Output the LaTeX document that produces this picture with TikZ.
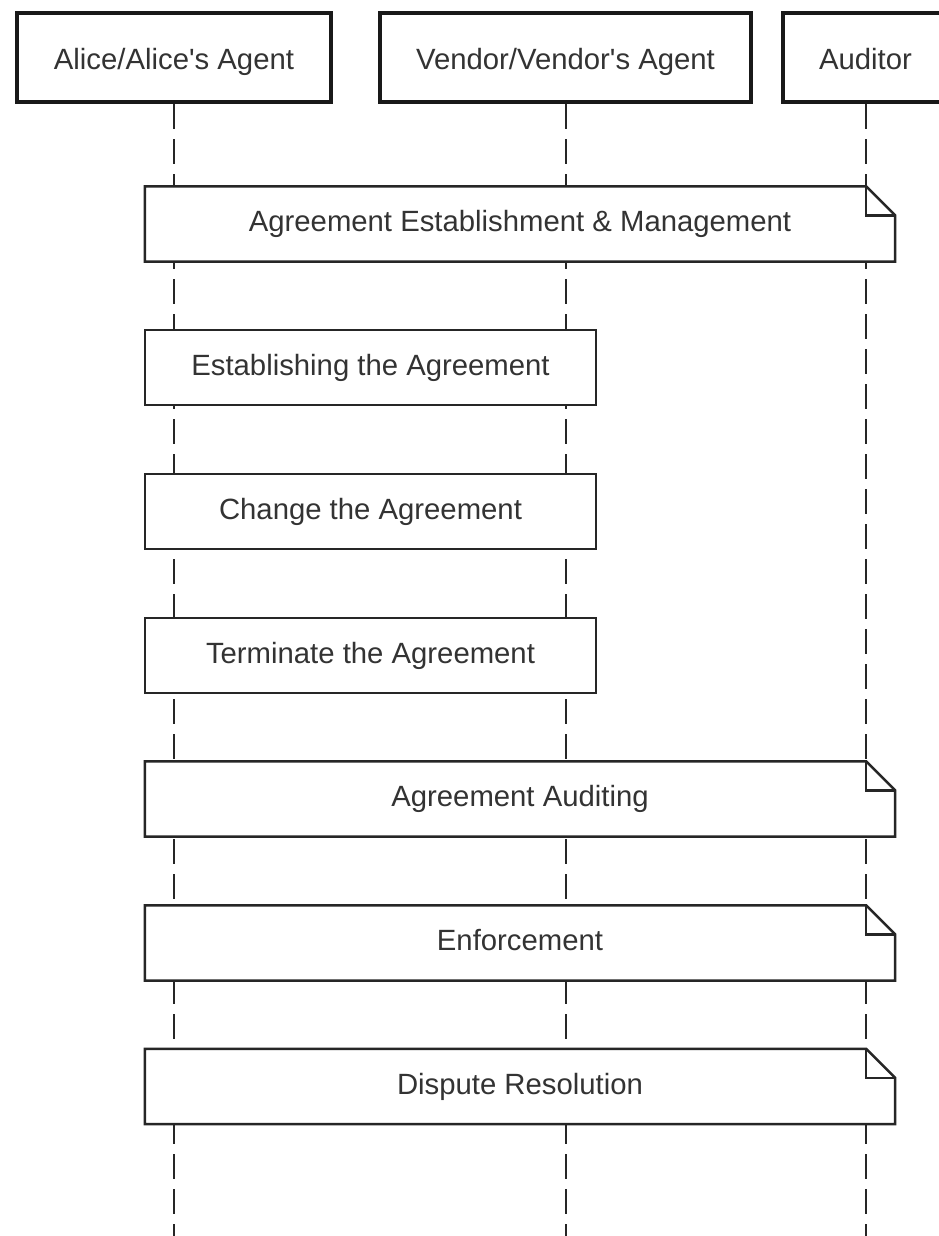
\documentclass[tikz,border=0pt]{standalone}
\usepackage{fontspec}
\setmainfont{Liberation Sans}
\begin{document}
\begin{tikzpicture}[x=1pt,y=-1pt,
  every node/.style={font=\fontsize{29.3}{34}\selectfont, text=black!80},
  actor/.style={draw=black!90, line width=4pt, fill=white, minimum height=89pt, inner sep=0pt, text height=25pt, text depth=0pt},
  lifeline/.style={draw=black!85, line width=2pt, dash pattern=on 25pt off 10pt},
  notebox/.style={draw=black!85, line width=2.5pt, fill=white, minimum height=75pt, minimum width=451pt, inner sep=0pt, text height=21pt, text depth=6pt},
  foldnote/.style={fill=white, minimum height=75pt, minimum width=750pt, inner sep=0pt, text height=21pt, text depth=6pt},
  foldline/.style={draw=black!85, line width=2.5pt, line join=miter}
]
\useasboundingbox (0,0) rectangle (939,1236);
\clip (0,0) rectangle (939,1236);
% actors
\node[actor, minimum width=314pt] (alice) at (174,57.5) {Alice/Alice\textquotesingle s Agent};
\node[actor, minimum width=371pt] (vendor) at (565.5,57.5) {Vendor/Vendor\textquotesingle s Agent};
\node[actor, minimum width=165pt] (auditor) at (865.5,57.5) {Auditor};
% lifeline ends
\coordinate (aliceend) at (alice.south |- 0,1240);
\coordinate (vendorend) at (vendor.south |- 0,1240);
\coordinate (auditorend) at (auditor.south |- 0,1240);
\draw[lifeline] (alice.south) -- (aliceend);
\draw[lifeline] (vendor.south) -- (vendorend);
\draw[lifeline] (auditor.south) -- (auditorend);
% notes with folded corner
\foreach \name/\y/\txt in {n1/224/{Agreement Establishment \& Management}, n5/799/{Agreement Auditing}, n6/943/{Enforcement}, n7/1086.5/{Dispute Resolution}}{
  \node[foldnote] (\name) at (520,\y) {\txt};
  \draw[foldline] (\name.north west) -- ([xshift=-29pt]\name.north east) -- ([yshift=-29pt]\name.north east) -- (\name.south east) -- (\name.south west) -- cycle;
  \draw[foldline] ([xshift=-29pt]\name.north east) -- ([xshift=-29pt,yshift=-29pt]\name.north east) -- ([yshift=-29pt]\name.north east);
}
% plain notes
\node[notebox] (n2) at (370.5,367.5) {Establishing the Agreement};
\node[notebox] (n3) at (370.5,511.5) {Change the Agreement};
\node[notebox] (n4) at (370.5,655.5) {Terminate the Agreement};
\end{tikzpicture}
\end{document}
